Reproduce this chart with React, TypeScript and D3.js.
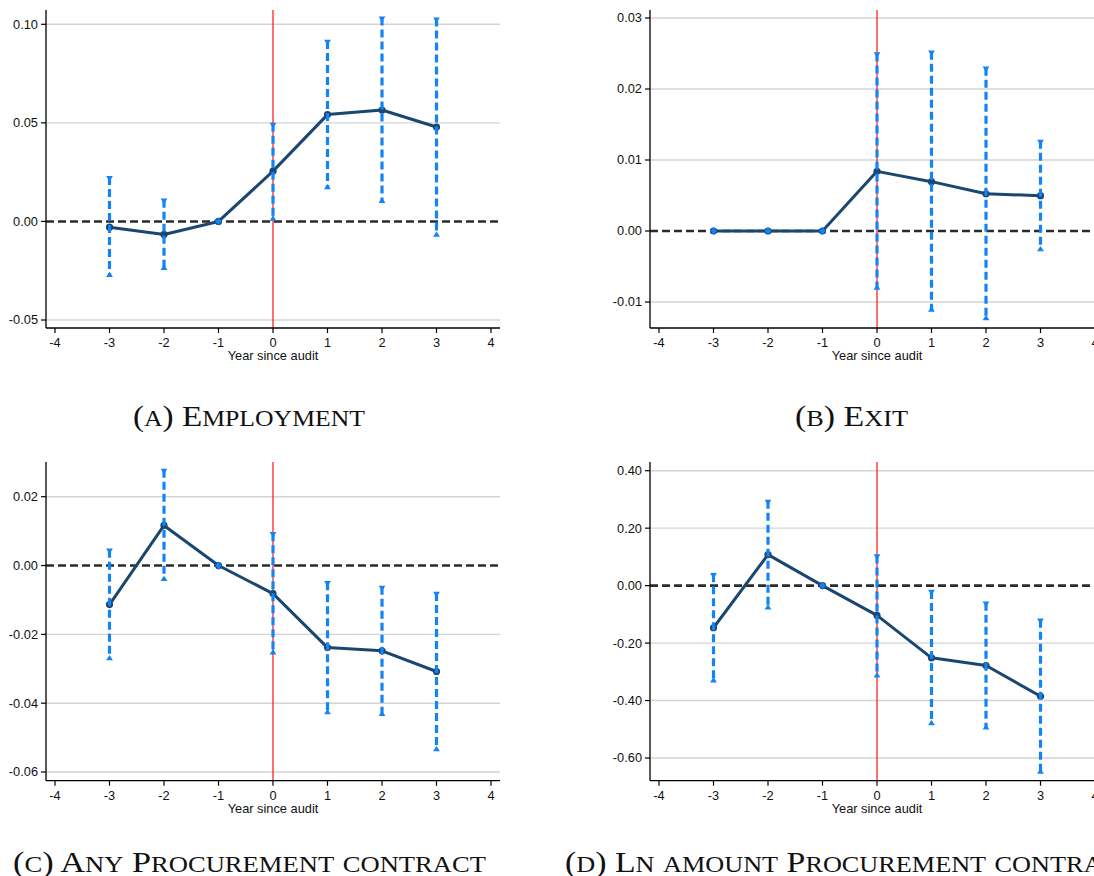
import React from "react";
import * as d3 from "d3";

// ---------- data ----------
const years = [-3, -2, -1, 0, 1, 2, 3];
const xTicks = [-4, -3, -2, -1, 0, 1, 2, 3, 4];

const empCoef = [-0.0029, -0.0066, 0, 0.0255, 0.0542, 0.0565, 0.0479];
const empLo = [-0.0276, -0.024, 0, 0.0009, 0.0169, 0.01, -0.0071];
const empHi = [0.0225, 0.011, 0, 0.0495, 0.0915, 0.1034, 0.1029];
const empTicks = [-0.05, 0, 0.05, 0.1];

const exitCoef = [0, 0, 0, 0.0084, 0.00695, 0.00525, 0.00497];
const exitLo = [0, 0, 0, -0.0081, -0.0112, -0.0124, -0.0027];
const exitHi = [0, 0, 0, 0.025, 0.02525, 0.023, 0.0127];
const exitTicks = [-0.01, 0, 0.01, 0.02, 0.03];

const procCoef = [-0.01135, 0.01164, 0, -0.00815, -0.02385, -0.0248, -0.0308];
const procLo = [-0.0272, -0.00416, 0, -0.0255, -0.0429, -0.0434, -0.0536];
const procHi = [0.00457, 0.0278, 0, 0.0094, -0.00484, -0.0062, -0.008];
const procTicks = [-0.06, -0.04, -0.02, 0, 0.02];

const lnCoef = [-0.1466, 0.108, 0, -0.1037, -0.2513, -0.278, -0.385];
const lnLo = [-0.333, -0.079, 0, -0.3155, -0.4817, -0.497, -0.6506];
const lnHi = [0.0394, 0.295, 0, 0.1047, -0.0188, -0.0593, -0.1187];
const lnTicks = [-0.6, -0.4, -0.2, 0, 0.2, 0.4];

const captions = [
  "(a) Employment",
  "(b) Exit",
  "(c) Any Procurement contract",
  "(d) Ln amount Procurement contract",
];

// ---------- styles ----------
const NAVY = "#1a476f";
const BLUE = "#1483f7";
const GRID = "#d4d4d4";
const SANS = "'Liberation Sans', Arial, sans-serif";
const SERIF = "'Liberation Serif', 'Times New Roman', serif";

type PanelProps = {
  axisX: number;
  top: number;
  bottom: number;
  yDomain: [number, number];
  yRange: [number, number];
  ticks: number[];
  coef: number[];
  lo: number[];
  hi: number[];
};

function Panel({ axisX, top, bottom, yDomain, yRange, ticks, coef, lo, hi }: PanelProps) {
  const right = axisX + 454;
  const x = d3.scaleLinear().domain([-4, 4]).range([axisX + 9, axisX + 445]);
  const y = d3.scaleLinear().domain(yDomain).range(yRange);
  const fmt = (v: number) => (Math.abs(v) < 1e-12 ? "0.00" : v.toFixed(2));
  const line = d3
    .line<number>()
    .x((_, i) => x(years[i]))
    .y((d) => y(d));
  const capW = 3.4;
  const capH = 4.2;
  return (
    <g>
      {ticks
        .filter((t) => Math.abs(t) > 1e-12)
        .map((t) => (
          <line key={"g" + t} x1={axisX} x2={right} y1={y(t)} y2={y(t)} stroke={GRID} strokeWidth={1.4} />
        ))}
      <line x1={axisX} x2={right} y1={y(0)} y2={y(0)} stroke="#2b2b2b" strokeWidth={2.6} strokeDasharray="8,4" />
      <line x1={x(0)} x2={x(0)} y1={top} y2={bottom} stroke="#ff1010" strokeWidth={1.2} />
      <path d={line(coef) || ""} fill="none" stroke={NAVY} strokeWidth={3} strokeLinejoin="round" />
      {coef.map((c, i) => (
        <circle key={"m" + i} cx={x(years[i])} cy={y(c)} r={3.6} fill={NAVY} />
      ))}
      {years.map((yr, i) => {
        const cx = x(yr);
        const yh = y(hi[i]);
        const yl = y(lo[i]);
        return (
          <g key={"ci" + i}>
            <line x1={cx} x2={cx} y1={yh} y2={yl} stroke={BLUE} strokeWidth={3.2} strokeDasharray="8,4" />
            <path d={`M${cx - capW},${yh - 1.2}L${cx + capW},${yh - 1.2}L${cx},${yh + capH}Z`} fill={BLUE} />
            <path d={`M${cx - capW},${yl + 1.2}L${cx + capW},${yl + 1.2}L${cx},${yl - capH}Z`} fill={BLUE} />
          </g>
        );
      })}
      <line x1={axisX} x2={axisX} y1={top} y2={bottom} stroke="#000" strokeWidth={1.3} />
      <line x1={axisX} x2={right} y1={bottom} y2={bottom} stroke="#000" strokeWidth={1.3} />
      {ticks.map((t) => (
        <g key={"yt" + t}>
          <line x1={axisX - 5} x2={axisX} y1={y(t)} y2={y(t)} stroke="#000" strokeWidth={1.2} />
          <text x={axisX - 8} y={y(t)} dy="0.35em" textAnchor="end" fontFamily={SANS} fontSize={12.8} fill="#111">
            {fmt(t)}
          </text>
        </g>
      ))}
      {xTicks.map((t) => (
        <g key={"xt" + t}>
          <line x1={x(t)} x2={x(t)} y1={bottom} y2={bottom + 5} stroke="#000" strokeWidth={1.2} />
          <text x={x(t)} y={bottom + 19} textAnchor="middle" fontFamily={SANS} fontSize={12.8} fill="#111">
            {String(t)}
          </text>
        </g>
      ))}
      <text x={x(0)} y={bottom + 32} textAnchor="middle" fontFamily={SANS} fontSize={12.8} fill="#111">
        Year since audit
      </text>
    </g>
  );
}

function Caption({ x, y, w, text }: { x: number; y: number; w: number; text: string }) {
  // manual small caps: lowercase letters rendered as smaller capitals
  const runs: { s: string; small: boolean }[] = [];
  for (const ch of text) {
    const small = ch >= "a" && ch <= "z";
    const last = runs[runs.length - 1];
    if (last && last.small === small) last.s += small ? ch.toUpperCase() : ch;
    else runs.push({ s: small ? ch.toUpperCase() : ch, small });
  }
  return (
    <text x={x} y={y} fontFamily={SERIF} fontSize={29} textLength={w} lengthAdjust="spacingAndGlyphs" fill="#111">
      {runs.map((r, i) => (
        <tspan key={i} fontSize={r.small ? 22.5 : 29}>
          {r.s}
        </tspan>
      ))}
    </text>
  );
}

export default function App() {
  const dy = 452.7;
  return (
    <div>
      <style>{"body{margin:0;}"}</style>
      <svg width={1094} height={876} style={{ display: "block", background: "#fff" }}>
        <Panel axisX={46} top={10} bottom={328} yDomain={[-0.05, 0.1]} yRange={[320, 24.3]} ticks={empTicks} coef={empCoef} lo={empLo} hi={empHi} />
        <Panel axisX={650} top={10} bottom={328} yDomain={[-0.01, 0.03]} yRange={[302, 18]} ticks={exitTicks} coef={exitCoef} lo={exitLo} hi={exitHi} />
        <Panel axisX={46} top={462} bottom={328 + dy} yDomain={[-0.06, 0.02]} yRange={[772, 496.7]} ticks={procTicks} coef={procCoef} lo={procLo} hi={procHi} />
        <Panel axisX={650} top={462} bottom={328 + dy} yDomain={[-0.6, 0.4]} yRange={[758, 470.7]} ticks={lnTicks} coef={lnCoef} lo={lnLo} hi={lnHi} />
        <Caption x={133} y={426} w={232} text={captions[0]} />
        <Caption x={795} y={426} w={113} text={captions[1]} />
        <Caption x={13} y={872} w={473} text={captions[2]} />
        <Caption x={565} y={872} w={571} text={captions[3]} />
      </svg>
    </div>
  );
}
